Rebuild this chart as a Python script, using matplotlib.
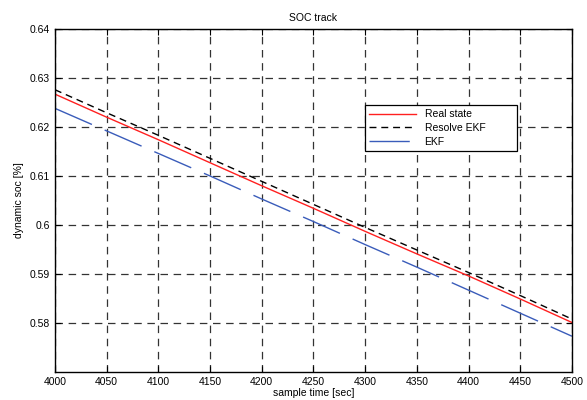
import numpy as np
import matplotlib.pyplot as plt

plt.rcParams['font.family'] = ['Liberation Sans', 'DejaVu Sans']

# sample time [sec]
t = np.array([4000, 4050, 4100, 4150, 4200, 4250, 4300, 4350, 4400, 4450, 4500])
# soc values
real_state = np.array([0.6267, 0.6220, 0.6174, 0.6127, 0.6080, 0.6034, 0.5987, 0.5941, 0.5896, 0.5849, 0.5801])
resolve_ekf = np.array([0.6276, 0.6229, 0.6183, 0.6136, 0.6089, 0.6042, 0.5995, 0.5949, 0.5903, 0.5856, 0.5808])
ekf = np.array([0.6238, 0.6192, 0.6146, 0.6100, 0.6053, 0.6007, 0.5960, 0.5914, 0.5867, 0.5820, 0.5773])

xticks = np.arange(4000, 4501, 50)
yticks = [0.58, 0.59, 0.6, 0.61, 0.62, 0.63, 0.64]

fig = plt.figure(figsize=(5.87, 4.0), dpi=100)
ax = fig.add_axes([0.0937, 0.07, 0.8807, 0.8575])

ax.plot(t, real_state, color='#ff2020', lw=1.0, label='Real state')
ax.plot(t, resolve_ekf, color='black', lw=1.0, dashes=(5, 3.5), label='Resolve EKF')
ax.plot(t, ekf, color='#3a5cba', lw=1.0, dashes=(29, 10), label='EKF')

ax.set_xlim(4000, 4500)
ax.set_ylim(0.57, 0.64)
ax.set_xticks(xticks)
ax.set_yticks(yticks)
ax.set_yticklabels(['0.58', '0.59', '0.6', '0.61', '0.62', '0.63', '0.64'])
ax.grid(True, color='#333333', linestyle=(0, (6, 4.5)), linewidth=0.9)
ax.tick_params(direction='in', top=True, right=True, labelsize=7.5, length=4)
for s in ax.spines.values():
    s.set_linewidth(1.0)

ax.set_title('SOC track', fontsize=7.5, pad=6)
ax.set_xlabel('sample time [sec]', fontsize=7.5, labelpad=1)
ax.set_ylabel('dynamic soc [%]', fontsize=7.5, labelpad=4)

leg = ax.legend(loc='upper left', bbox_to_anchor=(0.6, 0.641, 0.294, 0.137), mode='expand',
                fontsize=7.5, fancybox=False, edgecolor='black', framealpha=1, borderaxespad=0,
                handlelength=4.5, labelspacing=0.35, borderpad=0.4)
leg.get_frame().set_linewidth(0.9)

fig.savefig('out.png', dpi=100)
